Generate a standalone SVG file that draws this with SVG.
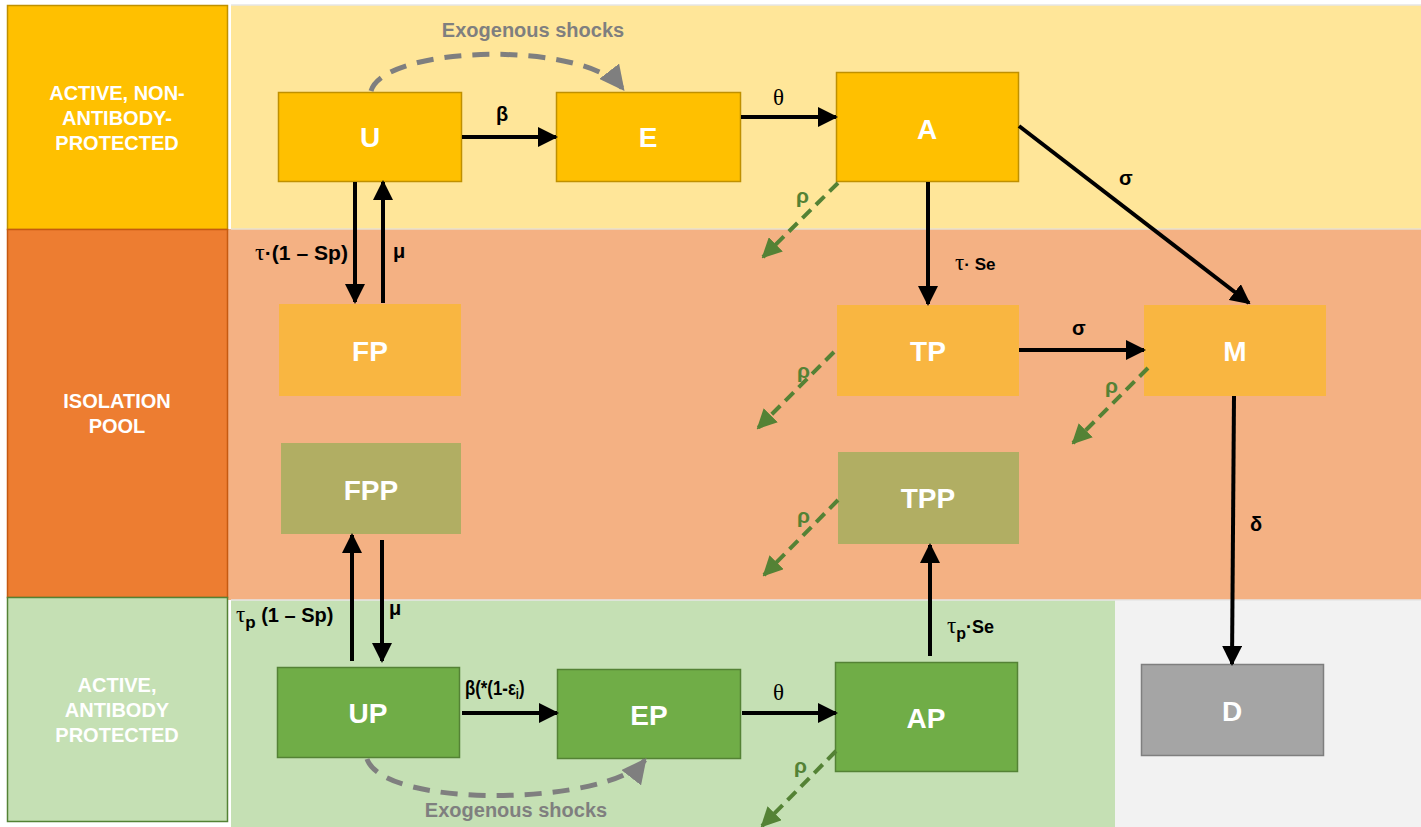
<svg xmlns="http://www.w3.org/2000/svg" width="1421" height="827" viewBox="0 0 1421 827">
<style>
.lane{font-family:"Liberation Sans",Arial,sans-serif;font-weight:bold;font-size:20px;fill:#fff;text-anchor:middle}
.nl{font-family:"Liberation Sans",Arial,sans-serif;font-weight:bold;font-size:28px;fill:#fff;text-anchor:middle}
.lbl{font-family:"Liberation Sans",Arial,sans-serif;font-weight:bold;font-size:20px;fill:#000}
.ser{font-family:"Liberation Serif","Times New Roman",serif;font-size:23px;fill:#000}
.rho{font-family:"Liberation Sans",Arial,sans-serif;font-weight:bold;font-size:21px;fill:#548235}
.exo{font-family:"Liberation Sans",Arial,sans-serif;font-weight:bold;font-size:20px;fill:#7f7f7f;text-anchor:middle}
.ar{stroke:#000;stroke-width:4;fill:none;marker-end:url(#ah)}
.gr{stroke:#548235;stroke-width:4;fill:none;stroke-dasharray:12,7;marker-end:url(#ag)}
.ex{stroke:#7f7f7f;stroke-width:5;fill:none;stroke-dasharray:17,11;marker-end:url(#ax)}
</style>
<defs>
<marker id="ah" markerWidth="5" markerHeight="5" refX="4.5" refY="2.5" orient="auto" markerUnits="strokeWidth"><path d="M0,0 L5,2.5 L0,5 Z" fill="#000"/></marker>
<marker id="ag" markerWidth="5" markerHeight="5" refX="4.5" refY="2.5" orient="auto" markerUnits="strokeWidth"><path d="M0,0 L5,2.5 L0,5 Z" fill="#548235"/></marker>
<marker id="ax" markerWidth="5" markerHeight="5" refX="4.5" refY="2.5" orient="auto" markerUnits="strokeWidth"><path d="M0,0 L5,2.5 L0,5 Z" fill="#7f7f7f"/></marker>
</defs>
<rect width="1421" height="827" fill="#fff"/>
<g id="bands">
<rect x="231" y="5" width="1190" height="224" fill="#FFE699"/>
<rect x="228" y="229" width="1193" height="371" fill="#F4B183"/>
<rect x="231" y="600" width="884" height="227" fill="#C5E0B4"/>
<rect x="1115" y="600" width="306" height="227" fill="#F2F2F2"/>
<line x1="231" y1="229" x2="1421" y2="229" stroke="#e8e0d0" stroke-width="1.5"/>
<line x1="231" y1="600" x2="1421" y2="600" stroke="#e6e6e6" stroke-width="1.5"/>
<line x1="231" y1="5" x2="1421" y2="5" stroke="#e6e6e6" stroke-width="1.5"/>
</g>
<g id="lane-active">
<rect x="7.5" y="5.5" width="220" height="224" fill="#FFC000" stroke="#BF9000" stroke-width="1.5"/>
<text class="lane" x="117" y="100">ACTIVE, NON-</text>
<text class="lane" x="117" y="125">ANTIBODY-</text>
<text class="lane" x="117" y="150">PROTECTED</text>
</g>
<g id="lane-isolation">
<rect x="7.5" y="229.5" width="220" height="368" fill="#ED7D31" stroke="#C55A11" stroke-width="1.5"/>
<text class="lane" x="117" y="408">ISOLATION</text>
<text class="lane" x="117" y="433">POOL</text>
</g>
<g id="lane-protected">
<rect x="7.5" y="597.5" width="220" height="224" fill="#C5E0B4" stroke="#548235" stroke-width="1.5"/>
<text class="lane" x="117" y="692">ACTIVE,</text>
<text class="lane" x="117" y="717">ANTIBODY</text>
<text class="lane" x="117" y="742">PROTECTED</text>
</g>
<g id="node-U"><rect x="278.5" y="92.5" width="183" height="89" fill="#FFC000" stroke="#BF9000" stroke-width="1.5"/><text class="nl" x="370" y="147">U</text></g>
<g id="node-E"><rect x="556.5" y="92.5" width="184" height="89" fill="#FFC000" stroke="#BF9000" stroke-width="1.5"/><text class="nl" x="648" y="147">E</text></g>
<g id="node-A"><rect x="836.5" y="72.5" width="182" height="109" fill="#FFC000" stroke="#BF9000" stroke-width="1.5"/><text class="nl" x="927" y="139">A</text></g>
<g id="node-FP"><rect x="279" y="304" width="182" height="92" fill="#F9B641"/><text class="nl" x="370" y="361">FP</text></g>
<g id="node-FPP"><rect x="281" y="443" width="180" height="91" fill="#B1AE63"/><text class="nl" x="371" y="500">FPP</text></g>
<g id="node-TP"><rect x="837" y="305" width="182" height="91" fill="#F9B641"/><text class="nl" x="928" y="361">TP</text></g>
<g id="node-M"><rect x="1144" y="305" width="182" height="91" fill="#F9B641"/><text class="nl" x="1235" y="361">M</text></g>
<g id="node-TPP"><rect x="838" y="452" width="181" height="92" fill="#B1AE63"/><text class="nl" x="928" y="508">TPP</text></g>
<g id="node-UP"><rect x="277.5" y="667.5" width="182" height="90" fill="#70AD47" stroke="#548235" stroke-width="1.5"/><text class="nl" x="368" y="723">UP</text></g>
<g id="node-EP"><rect x="557.5" y="669.5" width="183" height="89" fill="#70AD47" stroke="#548235" stroke-width="1.5"/><text class="nl" x="649" y="725">EP</text></g>
<g id="node-AP"><rect x="835.5" y="662.5" width="182" height="109" fill="#70AD47" stroke="#548235" stroke-width="1.5"/><text class="nl" x="926" y="728">AP</text></g>
<g id="node-D"><rect x="1141.5" y="664.5" width="182" height="91" fill="#A5A5A5" stroke="#7F7F7F" stroke-width="1.5"/><text class="nl" x="1232" y="721">D</text></g>
<g id="connectors">
<line class="ar" x1="462" y1="137" x2="556" y2="137"/>
<line class="ar" x1="741" y1="117" x2="836" y2="117"/>
<line class="ar" x1="1019" y1="126" x2="1249" y2="303"/>
<line class="ar" x1="928" y1="182" x2="928" y2="304"/>
<line class="ar" x1="1019" y1="350" x2="1144" y2="350"/>
<line class="ar" x1="1234" y1="396" x2="1232" y2="664"/>
<line class="ar" x1="355" y1="182" x2="355" y2="302"/>
<line class="ar" x1="383" y1="303" x2="383" y2="182"/>
<line class="ar" x1="352" y1="661" x2="352" y2="535"/>
<line class="ar" x1="382" y1="540" x2="382" y2="661"/>
<line class="ar" x1="462" y1="713" x2="557" y2="713"/>
<line class="ar" x1="742" y1="713" x2="836" y2="713"/>
<line class="ar" x1="930" y1="656" x2="930" y2="545"/>
<path class="ex" d="M371,91 C385,45 585,40 623,89"/>
<path class="ex" d="M367,759 C385,810 610,805 645,760"/>
<line class="gr" x1="838" y1="183" x2="763" y2="257"/>
<line class="gr" x1="834" y1="352" x2="758" y2="428"/>
<line class="gr" x1="1148" y1="368" x2="1073" y2="443"/>
<line class="gr" x1="838" y1="500" x2="764" y2="575"/>
<line class="gr" x1="836" y1="751" x2="762" y2="826"/>
</g>
<g id="labels">
<text class="exo" x="533" y="37">Exogenous shocks</text>
<text class="exo" x="516" y="817">Exogenous shocks</text>
<text class="lbl" x="496" y="121">β</text>
<text class="ser" x="773" y="105">θ</text>
<text class="lbl" x="1119" y="185">σ</text>
<text class="ser" x="955" y="270">τ<tspan class="lbl" style="font-size:17px">· Se</tspan></text>
<text class="lbl" x="1072" y="335">σ</text>
<text class="lbl" x="1250" y="531">δ</text>
<text class="ser" x="255" y="260" textLength="93" lengthAdjust="spacingAndGlyphs">τ<tspan class="lbl">·(1 – Sp)</tspan></text>
<text class="lbl" x="393" y="258">μ</text>
<text class="ser" x="236" y="622">τ<tspan class="lbl" style="font-size:17px" dy="6">p</tspan><tspan class="lbl" dy="-6"> (1 – Sp)</tspan></text>
<text class="lbl" x="389" y="615">μ</text>
<text class="lbl" transform="translate(465,695) scale(0.8,1)" x="0" y="0" style="font-size:21px">β(*(1-ε<tspan style="font-size:14px" dy="4">i</tspan><tspan dy="-4">)</tspan></text>
<text class="ser" x="773" y="700">θ</text>
<text class="ser" x="947" y="633">τ<tspan class="lbl" style="font-size:16px" dy="6">p</tspan><tspan class="lbl" style="font-size:18px" dy="-6">·Se</tspan></text>
<text class="rho" x="796" y="203">ρ</text>
<text class="rho" x="797" y="378">ρ</text>
<text class="rho" x="1105" y="393">ρ</text>
<text class="rho" x="797" y="523">ρ</text>
<text class="rho" x="794" y="773">ρ</text>
</g>
</svg>
